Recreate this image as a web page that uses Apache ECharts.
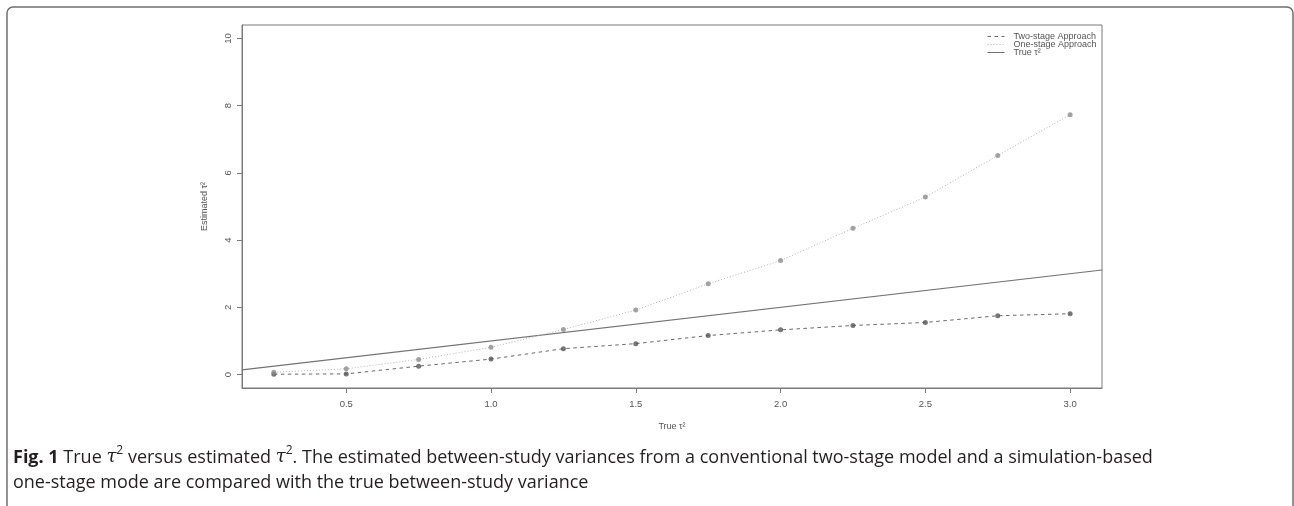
<!DOCTYPE html>
<html>
<head>
<meta charset="utf-8">
<script src="https://cdn.jsdelivr.net/npm/echarts@6/dist/echarts.min.js"></script>
<style>
html,body{margin:0;padding:0;background:#fff;}
#chart{width:1294px;height:506px;}
</style>
</head>
<body>
<div id="chart"></div>
<script>
// ---- data ----
var tauTrue  = [0.25, 0.5, 0.75, 1.0, 1.25, 1.5, 1.75, 2.0, 2.25, 2.5, 2.75, 3.0];
var twoStage = [0.01, 0.02, 0.25, 0.46, 0.77, 0.92, 1.16, 1.33, 1.46, 1.55, 1.75, 1.81];
var oneStage = [0.07, 0.17, 0.45, 0.81, 1.34, 1.92, 2.70, 3.39, 4.35, 5.28, 6.52, 7.73];
var xTicks = [0.5, 1.0, 1.5, 2.0, 2.5, 3.0];
var yTicks = [0, 2, 4, 6, 8, 10];
var xLim = [0.14, 3.11];
var yLim = [-0.4, 10.4];
var seriesNames = ['Two-stage Approach', 'One-stage Approach', 'True τ²'];

var pairs = function (ys) { return tauTrue.map(function (x, i) { return [x, ys[i]]; }); };
var trueLine = xLim.map(function (x) { return [x, x]; });

var chart = echarts.init(document.getElementById('chart'), null, {renderer: 'canvas'});
var axisFont = 'Liberation Sans, Arial, sans-serif';
var boxColor = '#7a7a7a';
var option = {
  animation: false,
  backgroundColor: '#fff',
  grid: {left: 242, right: 192, top: 25, bottom: 118, show: true, borderColor: boxColor, borderWidth: 1, backgroundColor: 'transparent'},
  legend: {
    data: seriesNames,
    orient: 'vertical',
    left: 982, top: 27,
    itemWidth: 17, itemHeight: 7, itemGap: -1,
    selectedMode: false,
    itemStyle: {opacity: 0},
    lineStyle: {width: 1},
    textStyle: {fontSize: 9, color: '#555', fontFamily: axisFont, lineHeight: 7, padding: [0, 0, 0, 4]}
  },
  xAxis: {
    type: 'value', min: xLim[0], max: xLim[1],
    name: 'True τ²', nameLocation: 'middle', nameGap: 34,
    nameTextStyle: {fontSize: 9, color: '#555', fontFamily: axisFont},
    axisLine: {show: true, onZero: false, lineStyle: {color: boxColor, width: 1}},
    axisTick: {show: true, inside: false, length: 5, lineStyle: {color: boxColor, width: 1}, customValues: xTicks},
    axisLabel: {fontSize: 9.5, color: '#555', fontFamily: axisFont, margin: 11, customValues: xTicks,
      formatter: function (v) { return v.toFixed(1); }},
    splitLine: {show: false}
  },
  yAxis: {
    type: 'value', min: yLim[0], max: yLim[1],
    name: 'Estimated τ²', nameLocation: 'middle', nameGap: 33,
    nameTextStyle: {fontSize: 9, color: '#555', fontFamily: axisFont},
    axisLine: {show: true, onZero: false, lineStyle: {color: boxColor, width: 1}},
    axisTick: {show: true, inside: false, length: 5, lineStyle: {color: boxColor, width: 1}, customValues: yTicks},
    axisLabel: {fontSize: 9.5, color: '#555', fontFamily: axisFont, margin: 9, rotate: 90, customValues: yTicks,
      formatter: function (v) { return String(v); }},
    splitLine: {show: false}
  },
  series: [
    {name: seriesNames[0], type: 'line', data: pairs(twoStage), symbol: 'none',
      lineStyle: {color: '#6a6a6a', width: 1, type: [3.5, 3.5]}, z: 3},
    {name: seriesNames[1], type: 'line', data: pairs(oneStage), symbol: 'none',
      lineStyle: {color: '#b4b4b4', width: 1, type: [1, 2]}, z: 3},
    {name: seriesNames[2], type: 'line', data: trueLine, symbol: 'none',
      lineStyle: {color: '#727272', width: 1.2, type: 'solid'}, z: 2},
    {name: 'twoPts', type: 'scatter', data: pairs(twoStage), symbol: 'circle', symbolSize: 5,
      itemStyle: {color: '#555'}, z: 4},
    {name: 'onePts', type: 'scatter', data: pairs(oneStage), symbol: 'circle', symbolSize: 5,
      itemStyle: {color: '#8c8c8c'}, z: 4}
  ],
  graphic: [
    {type: 'rect', shape: {x: 7, y: 7, width: 1286, height: 620, r: 6}, silent: true,
      style: {fill: 'none', stroke: '#6f6f6f', lineWidth: 1.5}},
    {type: 'text', left: 13, top: 445, silent: true,
      style: {
        text: '{b|Fig. 1} True {i|τ}{s|2} versus estimated {i|τ}{s|2}. The estimated between-study variances from a conventional two-stage model and a simulation-based\none-stage mode are compared with the true between-study variance',
        fontFamily: 'Open Sans', fontSize: 18, lineHeight: 25, fill: '#231f20',
        rich: {
          b: {fontFamily: 'Open Sans', fontWeight: 'bold', fontSize: 18, lineHeight: 25, fill: '#231f20'},
          i: {fontFamily: 'DejaVu Serif', fontStyle: 'italic', fontSize: 18, lineHeight: 25, fill: '#231f20'},
          s: {fontFamily: 'Open Sans', fontSize: 12, lineHeight: 16, verticalAlign: 'top', fill: '#231f20'}
        }
      }}
  ]
};
chart.setOption(option);
</script>
</body>
</html>
